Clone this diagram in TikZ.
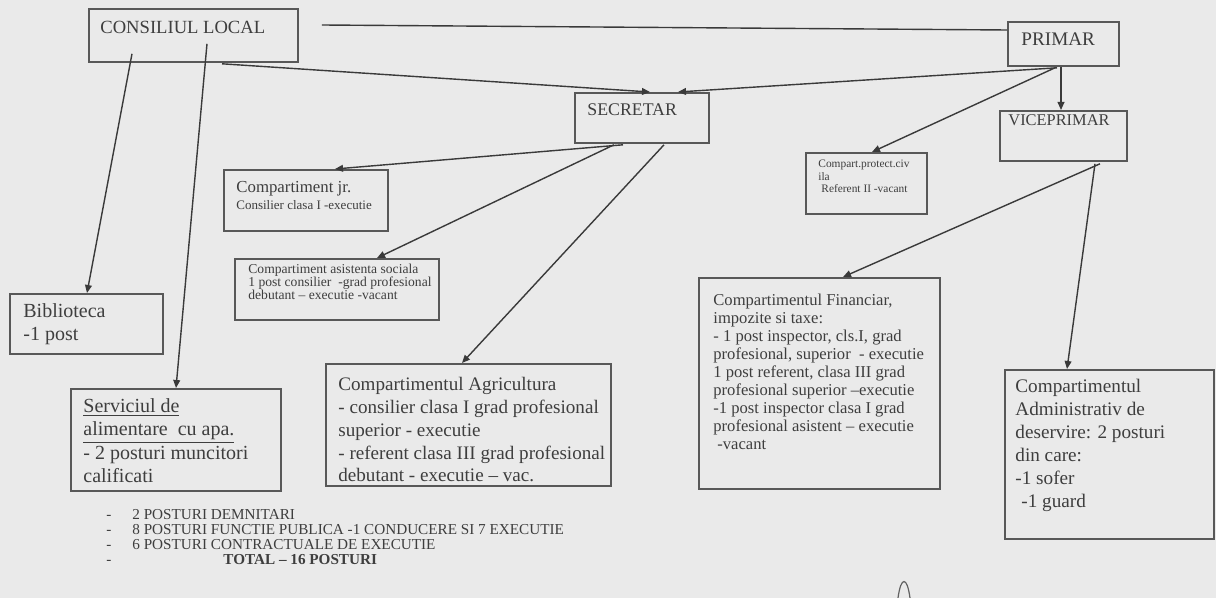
\documentclass[tikz,border=0pt]{standalone}
\usepackage{fontspec}
\setmainfont{Liberation Serif}
\usetikzlibrary{arrows.meta,calc}
\definecolor{bg}{RGB}{234,234,234}
\definecolor{ink}{RGB}{58,58,58}
\definecolor{boxc}{RGB}{88,88,88}
\definecolor{txt}{RGB}{62,62,62}
\newcommand{\dsh}{\makebox[13pt][l]{-}}
\begin{document}
\begin{tikzpicture}[x=0.5pt,y=-0.5pt,
  box/.style={draw=boxc, line width=0.9pt, anchor=north west, inner sep=0pt, fill=none},
  lbl/.style={anchor=north west, inner sep=0pt, align=left, text=txt},
  conn/.style={draw=ink, line width=0.7pt, -{Triangle[length=4pt,width=3.4pt]}},
  plain/.style={draw=ink, line width=0.7pt}]
\fill[bg] (0,0) rectangle (1216,598);
\useasboundingbox (0,0) rectangle (1216,598);

% boxes
\node[box, minimum width=104.5pt, minimum height=26.5pt] (cl)  at (88,8) {};
\node[box, minimum width=55.5pt,  minimum height=22pt]   (pr)  at (1007,21) {};
\node[box, minimum width=67pt,    minimum height=25pt]   (sec) at (574,92) {};
\node[box, minimum width=63.5pt,  minimum height=25pt]   (vp)  at (999,110) {};
\node[box, minimum width=60.5pt,  minimum height=30.5pt] (pc)  at (805,152) {};
\node[box, minimum width=82pt,    minimum height=30.5pt] (jr)  at (223,169) {};
\node[box, minimum width=102pt,   minimum height=30.5pt] (as)  at (234,258) {};
\node[box, minimum width=76.5pt,  minimum height=30pt]   (bib) at (9,293) {};
\node[box, minimum width=105pt,   minimum height=51pt]   (ser) at (70,388) {};
\node[box, minimum width=142.5pt, minimum height=61pt]   (agr) at (325,363) {};
\node[box, minimum width=120.5pt, minimum height=105.5pt] (fin) at (698,277) {};
\node[box, minimum width=104.5pt, minimum height=84.5pt] (adm) at (1004,369) {};

% texts
\node[lbl, font=\fontsize{9.3}{11}\selectfont] (clT) at (100,20.5) {CONSILIUL LOCAL};
\node[lbl, font=\fontsize{9.6}{11}\selectfont] (prT) at (1021,32.7) {PRIMAR};
\node[lbl, font=\fontsize{8.9}{11}\selectfont] (secT) at (587,103.7) {SECRETAR};
\node[lbl, font=\fontsize{8.2}{10}\selectfont] (vpT) at (1008,114.5) {VICEPRIMAR};
\node[lbl, font=\fontsize{5.7}{6.25}\selectfont] (pcT) at (818,160) {Compart.protect.civ\\ila\\\hspace{1.5pt}Referent II -vacant};
\node[lbl, font=\fontsize{8.4}{10}\selectfont] (jrT) at (236,180.5) {Compartiment jr.};
\node[lbl, font=\fontsize{6.5}{8}\selectfont] (jrU) at (236,200) {Consilier clasa I -executie};
\node[lbl, font=\fontsize{6.8}{6.4}\selectfont] (asT) at (248,263.6) {Compartiment asistenta sociala\\1 post consilier~ -grad profesional\\debutant -- executie -vacant};
\node[lbl, font=\fontsize{10}{11.5}\selectfont] (bibT) at (23,303) {Biblioteca\\-1 post};
\node[lbl, font=\fontsize{10}{11.75}\selectfont] (serT) at (83,398) {\underline{Serviciul de}\\\underline{alimentare~ cu apa.}\\- 2 posturi muncitori\\calificati};
\node[lbl, font=\fontsize{9.55}{11.4}\selectfont] (agrT) at (338,377) {Compartimentul Agricultura\\- consilier clasa I grad profesional\\superior - executie\\- referent clasa III grad profesional\\debutant - executie -- vac.};
\node[lbl, font=\fontsize{8.3}{9}\selectfont] (finT) at (713,293.5) {Compartimentul Financiar,\\impozite si taxe:\\- 1 post inspector, cls.I, grad\\profesional, superior~ - executie\\1 post referent, clasa III grad\\profesional superior --executie\\-1 post inspector clasa I grad\\profesional asistent -- executie\\\hspace{2pt}-vacant};
\node[lbl, font=\fontsize{9.6}{11.5}\selectfont] (admT) at (1015,379) {Compartimentul\\Administrativ de\\deservire: 2 posturi\\din care:\\-1 sofer\\\hspace{3pt}-1 guard};

% bottom list
\node[lbl, font=\fontsize{7.6}{7.5}\selectfont] (list) at (106,509) {\dsh 2 POSTURI DEMNITARI\\\dsh 8 POSTURI FUNCTIE PUBLICA -1 CONDUCERE SI 7 EXECUTIE\\\dsh 6 POSTURI CONTRACTUALE DE EXECUTIE\\\dsh\hspace{45.5pt}\textbf{TOTAL -- 16 POSTURI}};

% connectors
\draw[plain] ($(cl.north east)+(23,17)$) -- ($(pr.north west)+(0,9)$);
\draw[conn] ($(cl.south west)+(134,1)$) -- ($(sec.north west)+(76,0)$);
\draw[conn] ($(pr.south west)+(50,1)$) -- ($(sec.north west)+(104,0)$);
\draw[conn] ($(pr.south west)+(48,1)$) -- ($(pc.north west)+(67,0)$);
\draw[conn] ($(pr.south west)+(54,0)$) -- ($(vp.north west)+(62,0)$);
\draw[conn] ($(cl.south west)+(44,-9)$) -- ($(bib.north west)+(78,0)$);
\draw[conn] ($(cl.south west)+(119,-19)$) -- ($(ser.north west)+(106,0)$);
\draw[conn] ($(sec.south west)+(49,1)$) -- ($(jr.north west)+(112,0)$);
\draw[conn] ($(sec.south west)+(40,1)$) -- ($(as.north west)+(143,0)$);
\draw[conn] ($(sec.south west)+(90,1)$) -- ($(agr.north west)+(137,0)$);
\draw[conn] ($(vp.south west)+(101,2)$) -- ($(fin.north west)+(145,0)$);
\draw[conn] ($(vp.south west)+(96,2)$) -- ($(adm.north west)+(63,0)$);

% handwritten mark
\draw[ink!80, line width=0.6pt] (898,598) .. controls (901,576) and (907,576) .. (910,598);
\end{tikzpicture}
\end{document}
